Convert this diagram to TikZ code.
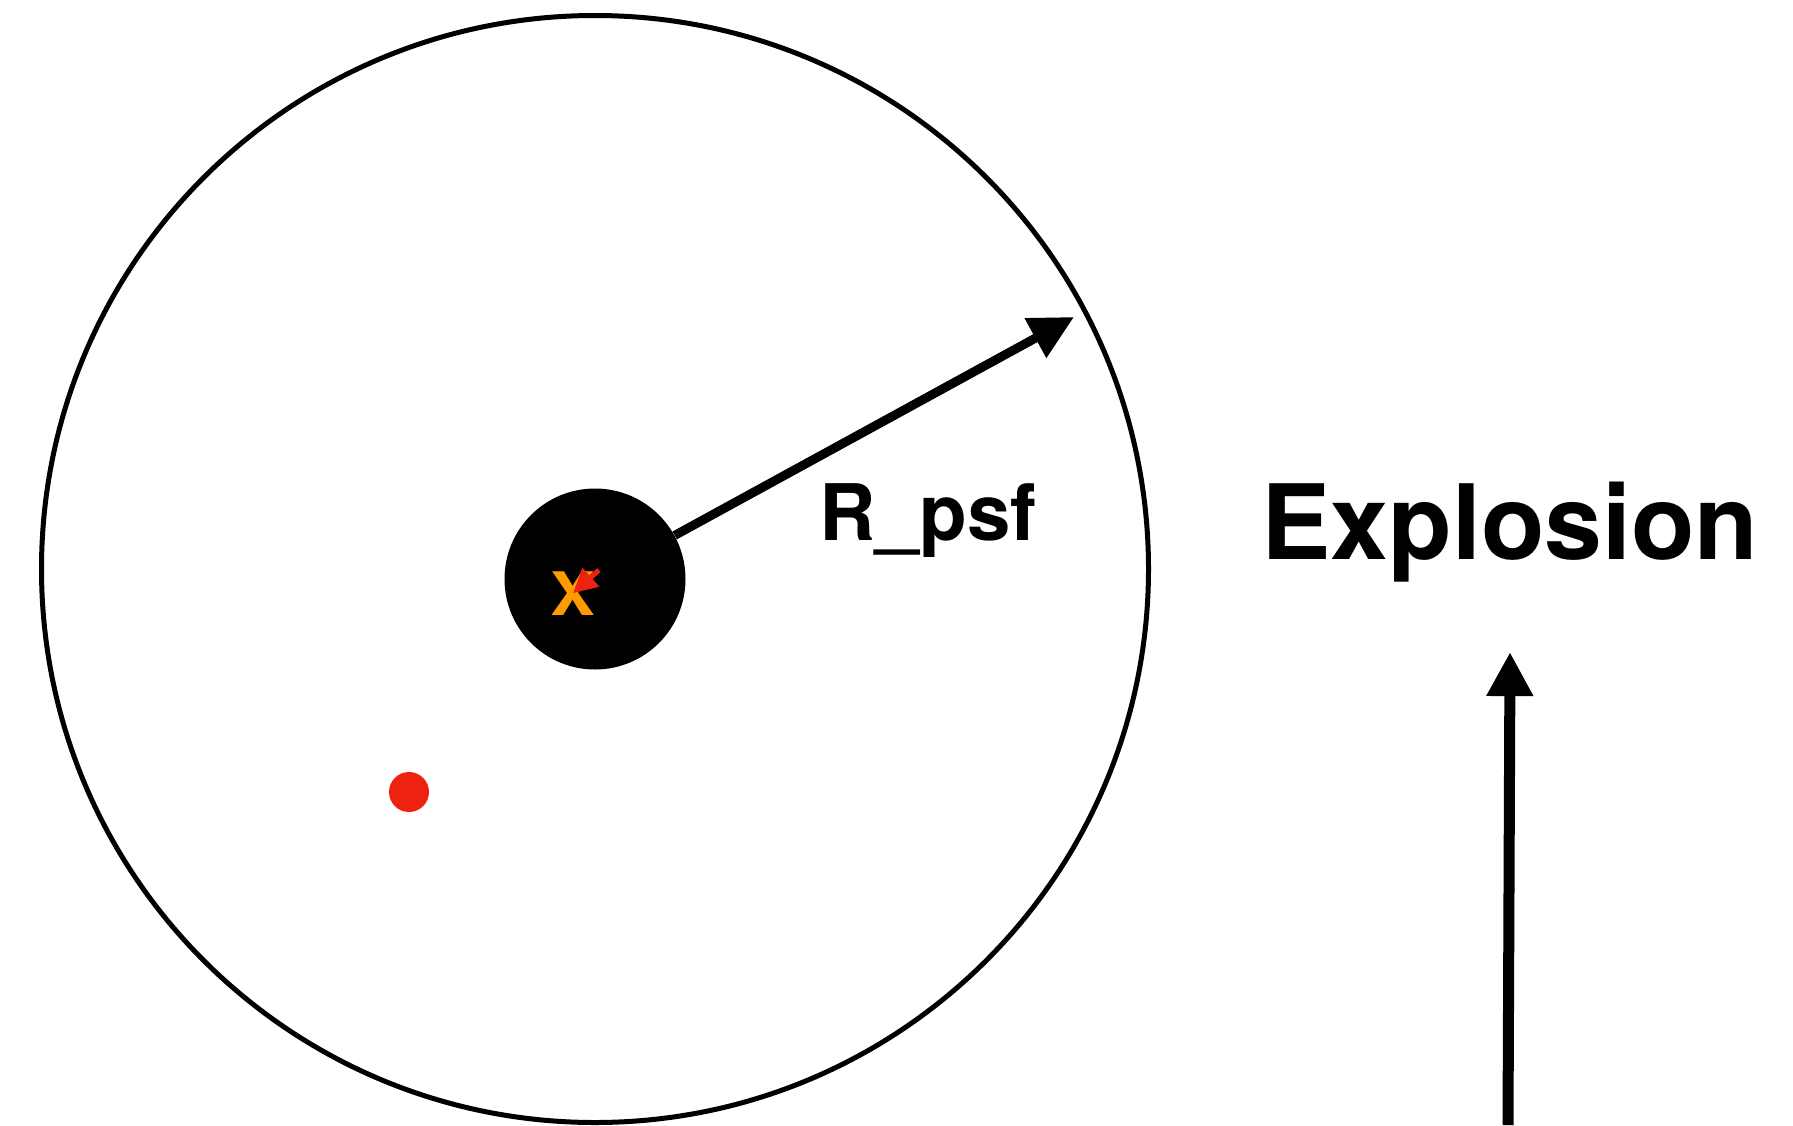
\documentclass[tikz,border=0pt]{standalone}
\usepackage{fontspec}
\setmainfont{TeX Gyre Heros}
\usetikzlibrary{arrows.meta}
\definecolor{SpotRed}{HTML}{EE2211}
\definecolor{SpotOrange}{HTML}{FF9A00}

\begin{document}
\begin{tikzpicture}[x=0.5pt,y=-0.5pt,
  ring/.style={circle,draw=black,line width=2.5pt,minimum size=553.5pt,inner sep=0pt},
  core/.style={circle,fill=black,minimum size=90.5pt,inner sep=0pt},
  spot/.style={circle,fill=SpotRed,minimum size=20pt,inner sep=0pt},
  label/.style={font=\bfseries,inner sep=0pt,anchor=base},
  radius/.style={-{Triangle[length=22pt,width=21.5pt]},line width=4.5pt},
  blast/.style={-{Triangle[length=22pt,width=22pt]},line width=5.5pt},
  pointer/.style={-{Triangle[length=12pt,width=12pt]},draw=SpotRed,line width=2.5pt}
]
\useasboundingbox (0,0) rectangle (1793,1125);
\node[ring] (psf) at (595,569) {};
\node[core] (src) at (595,579) {};
\node[spot] (dot) at (409,792) {};
\node[label,text=SpotOrange] (xmark) at (573,615) {\fontsize{30pt}{30pt}\selectfont\addfontfeatures{FakeStretch=1.12}X};
\coordinate (rtip) at (1074,317);
\coordinate (ptail) at (599,570);
\coordinate (ufoot) at (1508,1125);
\node[label] (rpsf) at (928,540) {\fontsize{39pt}{39pt}\selectfont R\_psf};
\node[label] (expl) at (1510,559) {\fontsize{52pt}{52pt}\selectfont Explosion};
\draw[radius] (src) -- (rtip);
\draw[pointer] (ptail) -- (xmark.center);
\draw[blast] (ufoot) -- ([yshift=-35pt]expl.south);
\end{tikzpicture}
\end{document}
